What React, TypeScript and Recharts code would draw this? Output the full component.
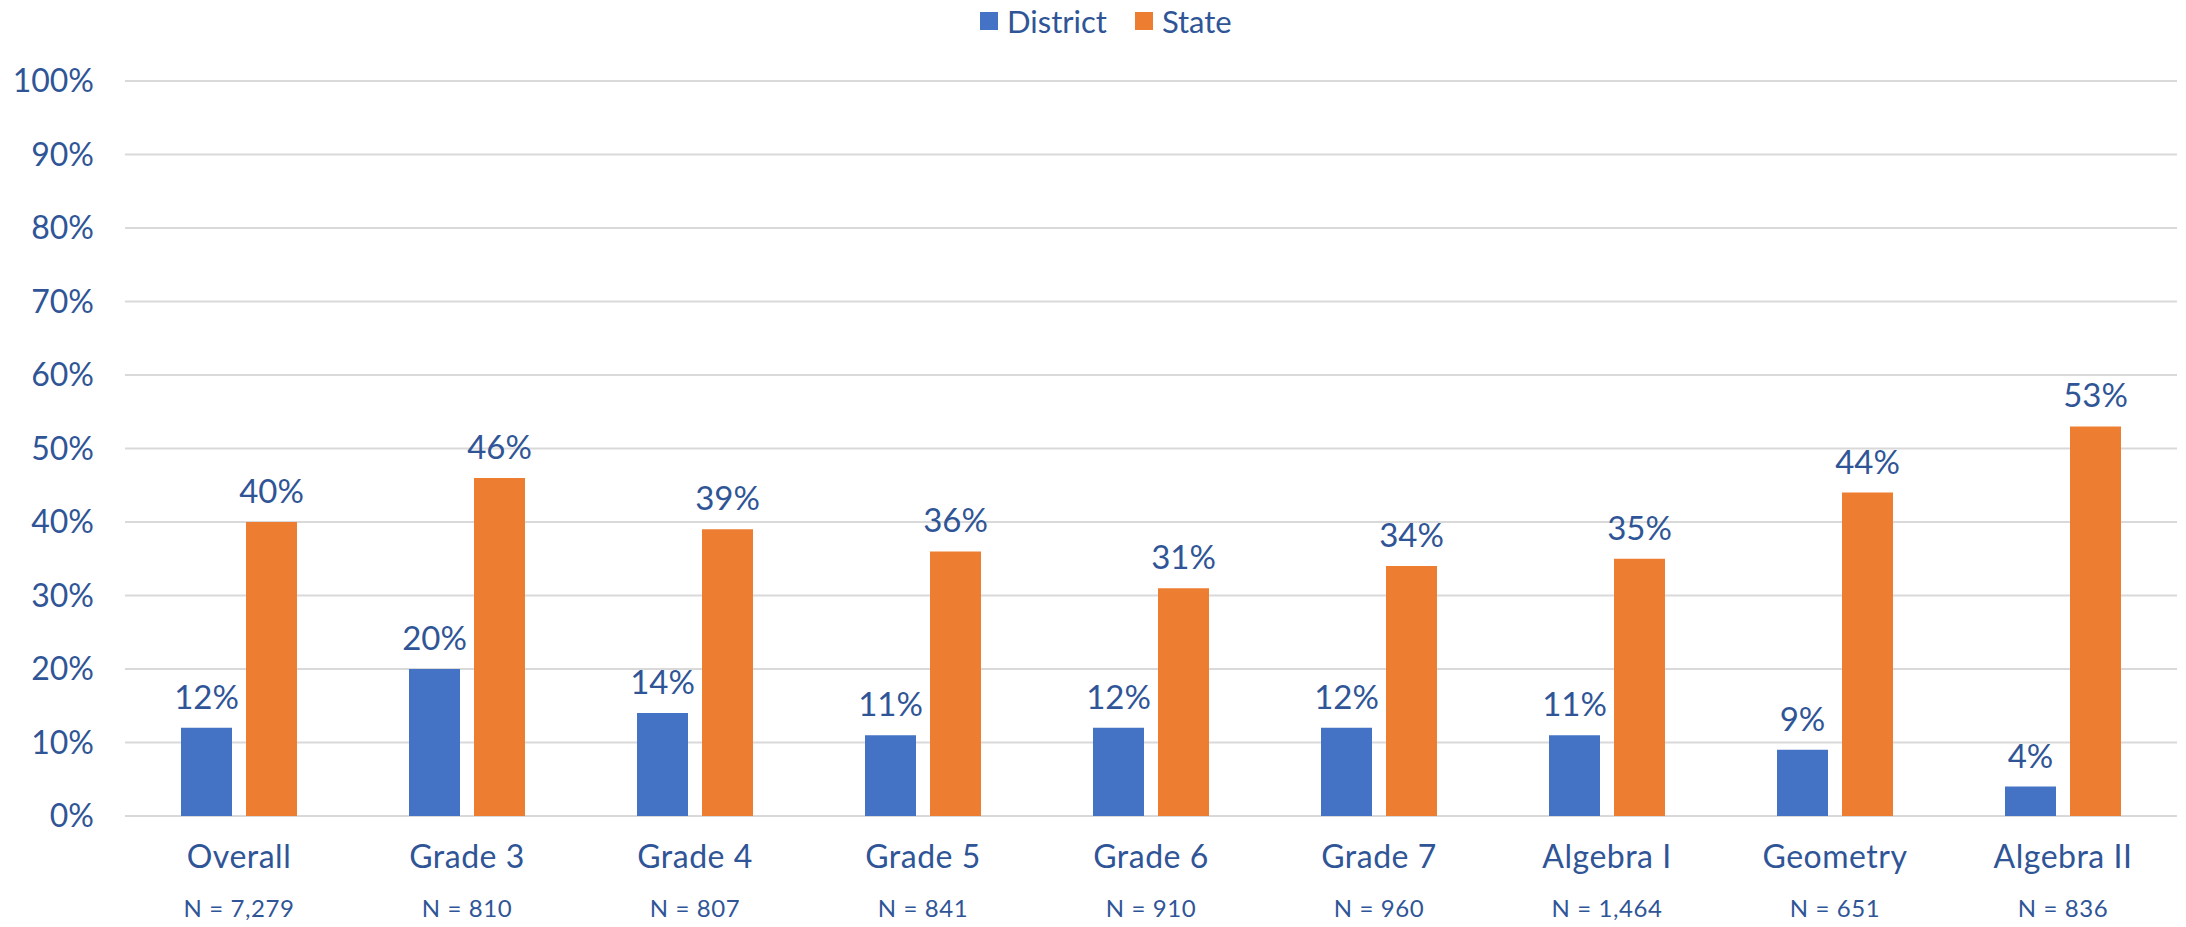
import React from 'react';
import { BarChart, Bar, XAxis, YAxis, CartesianGrid, Legend, LabelList } from 'recharts';

const categories = ['Overall', 'Grade 3', 'Grade 4', 'Grade 5', 'Grade 6', 'Grade 7', 'Algebra I', 'Geometry', 'Algebra II'];
const districtValues = [12, 20, 14, 11, 12, 12, 11, 9, 4];
const stateValues = [40, 46, 39, 36, 31, 34, 35, 44, 53];
const nLabels = ['N = 7,279', 'N = 810', 'N = 807', 'N = 841', 'N = 910', 'N = 960', 'N = 1,464', 'N = 651', 'N = 836'];
const yTicks = [0, 10, 20, 30, 40, 50, 60, 70, 80, 90, 100];

const data = categories.map((c, i) => ({
  name: c,
  n: nLabels[i],
  District: districtValues[i],
  State: stateValues[i],
}));

const TEXT = '#2F5597';
const BLUE = '#4472C4';
const ORANGE = '#ED7D31';
const FONT = 'Lato, "Noto Sans", sans-serif';

const XTick = (props: any) => {
  const { x, y, payload, index } = props;
  return (
    <g>
      <text x={x} y={y + 52} textAnchor="middle" fill={TEXT} fontSize={32} letterSpacing={0.5} fontFamily={FONT}>
        {payload.value}
      </text>
      <text x={x} y={y + 101} textAnchor="middle" fill={TEXT} fontSize={24} letterSpacing={0.6} fontFamily={FONT}>
        {nLabels[index]}
      </text>
    </g>
  );
};

const LegendContent = () => (
  <div style={{ display: 'flex', alignItems: 'center', fontFamily: FONT, fontSize: 31, color: TEXT, whiteSpace: 'nowrap' }}>
    <span style={{ display: 'inline-block', width: 18, height: 18, background: BLUE, marginRight: 9 }} />
    <span style={{ marginRight: 28 }}>District</span>
    <span style={{ display: 'inline-block', width: 18, height: 18, background: ORANGE, marginRight: 9 }} />
    <span>State</span>
  </div>
);

export default function App() {
  return (
    <div style={{ position: 'absolute', left: 0, top: 0, width: 2186, height: 927, background: '#fff' }}>
      <BarChart
        width={2186}
        height={927}
        data={data}
        margin={{ top: 81, right: 9, left: 0, bottom: 0 }}
        barSize={51}
        barGap={14}
      >
        <CartesianGrid horizontal vertical={false} stroke="#D9D9D9" strokeWidth={2} />
        <XAxis
          dataKey="name"
          height={111}
          axisLine={false}
          tickLine={false}
          tickSize={0}
          tickMargin={0}
          interval={0}
          tick={<XTick />}
        />
        <YAxis
          width={125}
          domain={[0, 100]}
          ticks={yTicks}
          tickFormatter={(v: number) => `${v}%`}
          axisLine={false}
          tickLine={false}
          tickSize={0}
          tickMargin={31}
          tick={{ fill: TEXT, fontSize: 32, fontFamily: FONT }}
        />
        <Legend
          layout="horizontal"
          verticalAlign="middle"
          align="center"
          content={<LegendContent />}
          wrapperStyle={{ top: 2, left: 980, width: 'auto', height: 'auto' }}
        />
        <Bar dataKey="District" fill={BLUE} isAnimationActive={false}>
          <LabelList
            dataKey="District"
            position="top"
            offset={19}
            formatter={(v: number) => `${v}%`}
            fill={TEXT}
            fontSize={33}
            fontFamily={FONT}
          />
        </Bar>
        <Bar dataKey="State" fill={ORANGE} isAnimationActive={false}>
          <LabelList
            dataKey="State"
            position="top"
            offset={19}
            formatter={(v: number) => `${v}%`}
            fill={TEXT}
            fontSize={33}
            fontFamily={FONT}
          />
        </Bar>
      </BarChart>
    </div>
  );
}
